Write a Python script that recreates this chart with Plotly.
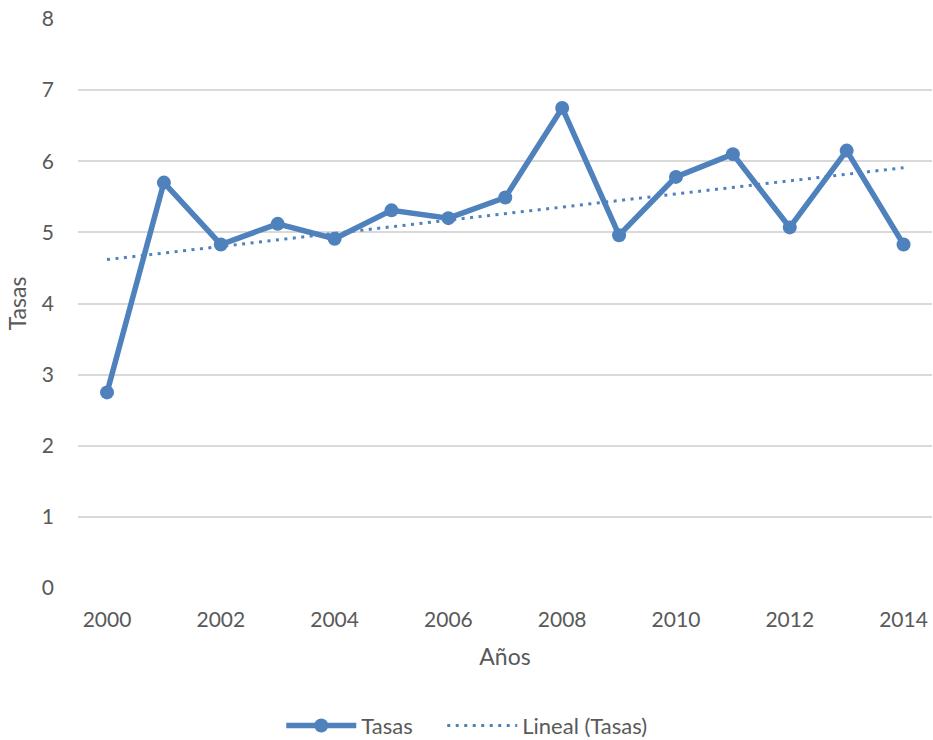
import numpy as np
import plotly.graph_objects as go

# Annual rates
years = [2000, 2001, 2002, 2003, 2004, 2005, 2006, 2007,
         2008, 2009, 2010, 2011, 2012, 2013, 2014]
tasas = [2.75, 5.70, 4.83, 5.12, 4.91, 5.31, 5.20, 5.49,
         6.75, 4.96, 5.78, 6.10, 5.07, 6.15, 4.83]
y_ticks = [0, 1, 2, 3, 4, 5, 6, 7, 8]
x_ticks = [2000, 2002, 2004, 2006, 2008, 2010, 2012, 2014]

BLUE = "#4F81BD"
TEXT = "#595959"
FONT = "Lato, 'Open Sans', sans-serif"

# Least-squares linear trend of the series
slope, intercept = np.polyfit(years, tasas, 1)
trend = [slope * x + intercept for x in years]

fig = go.Figure()
fig.add_trace(go.Scatter(
    x=years, y=tasas, name="Tasas", mode="lines+markers",
    line=dict(color=BLUE, width=5.5),
    marker=dict(color=BLUE, size=14),
    legend="legend",
))
fig.add_trace(go.Scatter(
    x=years, y=trend, name="Lineal (Tasas)", mode="lines",
    line=dict(color=BLUE, width=3, dash="3px,5.5px"),
    legend="legend2",
))

legend_common = dict(orientation="h", xanchor="left",
                     y=-0.205, yanchor="top", yref="paper",
                     font=dict(size=22, color=TEXT), itemwidth=70,
                     bgcolor="rgba(0,0,0,0)")

fig.update_layout(
    width=933, height=740,
    margin=dict(l=78, r=1, t=19, b=152, autoexpand=False),
    plot_bgcolor="white", paper_bgcolor="white",
    font=dict(family=FONT, size=21, color=TEXT),
    showlegend=True,
    legend=dict(x=0.238, **legend_common),
    legend2=dict(x=0.4265, **legend_common),
    xaxis=dict(range=[1999.49, 2014.5], tickvals=x_ticks,
               ticktext=[str(v) for v in x_ticks],
               showgrid=False, zeroline=False, showline=False,
               ticks="", ticklabelstandoff=17, automargin=False,
               tickfont=dict(size=21, color=TEXT),
               title=dict(text="Años", font=dict(size=23, color=TEXT),
                          standoff=18)),
    yaxis=dict(range=[0, 8], tickvals=y_ticks,
               showgrid=True, gridcolor="#D9D9D9", gridwidth=1.5,
               zeroline=False, showline=False, ticks="",
               ticklabelstandoff=23, automargin=False,
               tickfont=dict(size=21, color=TEXT),
               title=dict(text="Tasas", font=dict(size=23, color=TEXT),
                          standoff=8)),
)

fig.write_html("out.html")
